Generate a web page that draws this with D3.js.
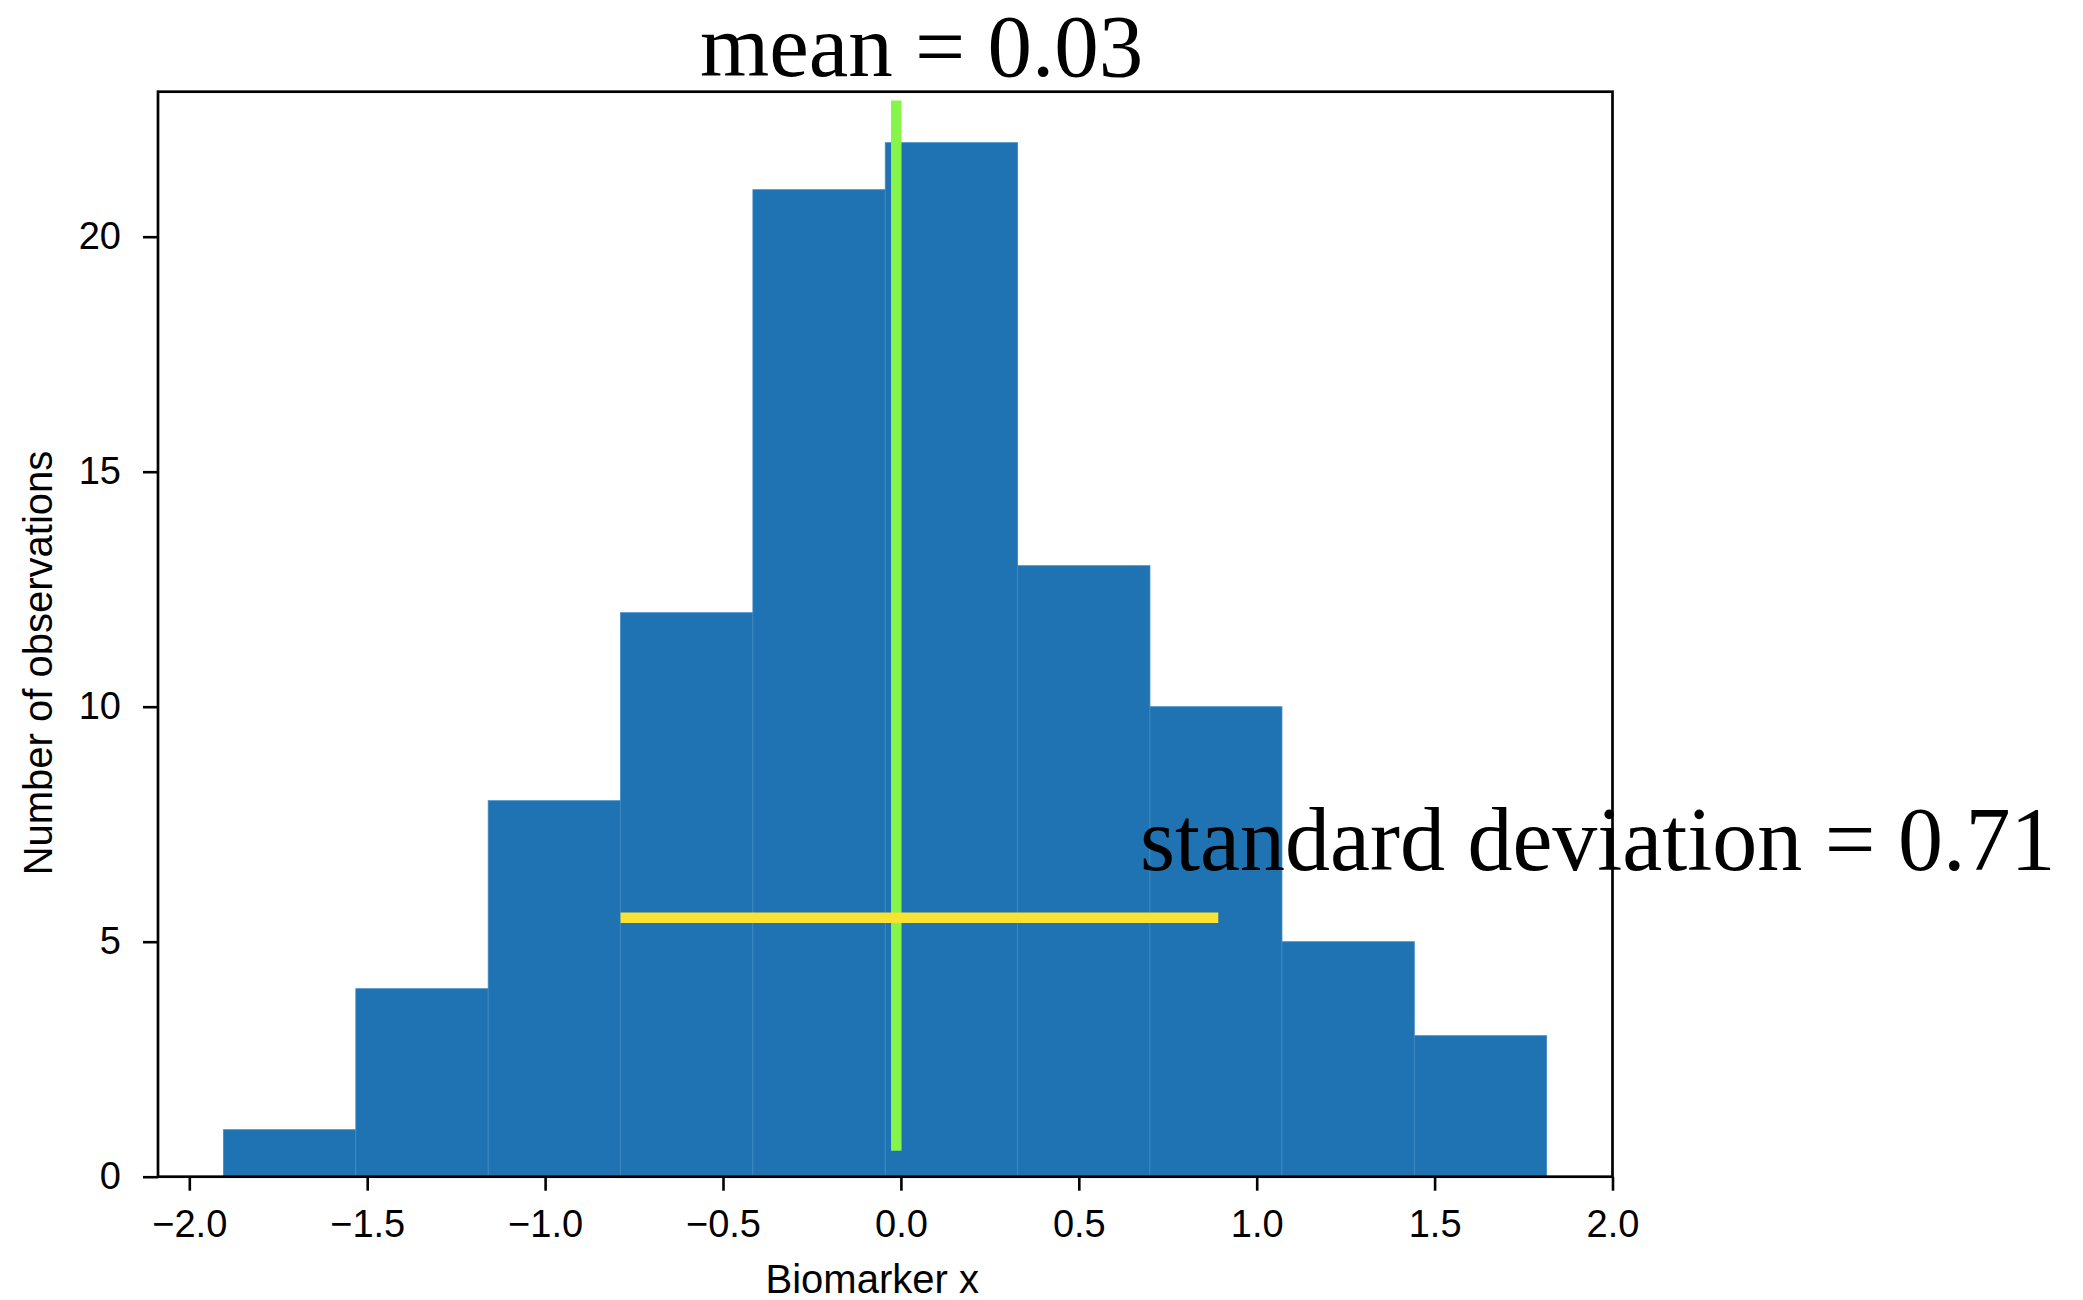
<!DOCTYPE html>
<html>
<head>
<meta charset="utf-8">
<script src="https://cdn.jsdelivr.net/npm/d3@7"></script>
<style>
  body { margin: 0; background: #fff; }
  svg { display: block; }
</style>
</head>
<body>
<div id="viz"></div>
<script>
(function() {
  var width = 2083, height = 1300;

  // histogram bins (Biomarker x) and counts
  var binEdges = [-1.904, -1.532, -1.160, -0.788, -0.416, -0.044, 0.328, 0.700, 1.071, 1.443, 1.815];
  var counts = [1, 4, 8, 12, 21, 22, 13, 10, 5, 3];

  var xTicks = [-2.0, -1.5, -1.0, -0.5, 0.0, 0.5, 1.0, 1.5, 2.0];
  var yTicks = [0, 5, 10, 15, 20];

  // annotation lines
  var meanLineX = -0.013;
  var meanLineY = [0.55, 22.9];
  var sdLineX = [-0.788, 0.892];
  var sdLineY = 5.51;

  var meanLabel = "mean = 0.03";
  var sdLabel = "standard deviation = 0.71";

  var plotLeft = 158, plotRight = 1612.5, plotTop = 91.7, plotBottom = 1176.7;

  var x = d3.scaleLinear().domain([-2.088, 2.0]).range([plotLeft, plotRight]);
  var y = d3.scaleLinear().domain([0, 23.085]).range([plotBottom, plotTop]);

  var svg = d3.select("#viz").append("svg")
    .attr("width", width).attr("height", height);

  var bins = counts.map(function(c, i) {
    return { x0: binEdges[i], x1: binEdges[i + 1], n: c };
  });

  svg.selectAll("rect.bar").data(bins).enter().append("rect")
    .attr("class", "bar")
    .attr("x", function(d) { return x(d.x0); })
    .attr("y", function(d) { return y(d.n); })
    .attr("width", function(d) { return x(d.x1) - x(d.x0); })
    .attr("height", function(d) { return y(0) - y(d.n); })
    .style("fill", "#1f73b2")
    .style("stroke", "#3f8ac2")
    .style("stroke-width", 0.8);

  // axes
  var xAxis = d3.axisBottom(x).tickValues(xTicks).tickSize(14).tickSizeOuter(0).tickPadding(19)
    .tickFormat(function(d) { return d3.format(".1f")(d).replace("-", "\u2212"); });
  var yAxis = d3.axisLeft(y).tickValues(yTicks).tickSize(15).tickSizeOuter(0).tickPadding(22)
    .tickFormat(d3.format("d"));

  var gx = svg.append("g").attr("transform", "translate(0," + plotBottom + ")").call(xAxis);
  var gy = svg.append("g").attr("transform", "translate(" + plotLeft + ",0)").call(yAxis);

  [gx, gy].forEach(function(g) {
    g.select(".domain").remove();
    g.selectAll(".tick line").style("stroke", "#000").style("stroke-width", 2.6);
    g.selectAll(".tick text")
      .style("font-family", "'Liberation Sans', Arial, Helvetica, sans-serif")
      .style("font-size", "38px")
      .style("fill", "#000");
  });

  // frame
  svg.append("rect")
    .attr("x", plotLeft).attr("y", plotTop)
    .attr("width", plotRight - plotLeft).attr("height", plotBottom - plotTop)
    .style("fill", "none").style("stroke", "#000").style("stroke-width", 2.7);

  // axis labels
  svg.append("text")
    .attr("x", (x(-2.088) + x(2.0)) / 2 - 13).attr("y", 1293)
    .attr("text-anchor", "middle")
    .style("font-family", "'Liberation Sans', Arial, Helvetica, sans-serif")
    .style("font-size", "40px")
    .text("Biomarker x");

  svg.append("text")
    .attr("transform", "translate(52," + 663 + ") rotate(-90)")
    .attr("text-anchor", "middle")
    .style("font-family", "'Liberation Sans', Arial, Helvetica, sans-serif")
    .style("font-size", "40px")
    .text("Number of observations");

  // mean line (green) and sd line (yellow)
  svg.append("line")
    .attr("x1", x(meanLineX)).attr("x2", x(meanLineX))
    .attr("y1", y(meanLineY[0])).attr("y2", y(meanLineY[1]))
    .style("stroke", "#86f54a").style("stroke-width", 10.5);

  svg.append("line")
    .attr("x1", x(sdLineX[0])).attr("x2", x(sdLineX[1]))
    .attr("y1", y(sdLineY)).attr("y2", y(sdLineY))
    .style("stroke", "#fae232").style("stroke-width", 10.5);

  // annotations
  svg.append("text")
    .attr("x", 700).attr("y", 76)
    .style("font-family", "'Liberation Serif', 'Times New Roman', serif")
    .style("font-size", "89px")
    .text(meanLabel);

  svg.append("text")
    .attr("x", 1140).attr("y", 870)
    .style("font-family", "'Liberation Serif', 'Times New Roman', serif")
    .style("font-size", "90px")
    .text(sdLabel);
})();
</script>
</body>
</html>
